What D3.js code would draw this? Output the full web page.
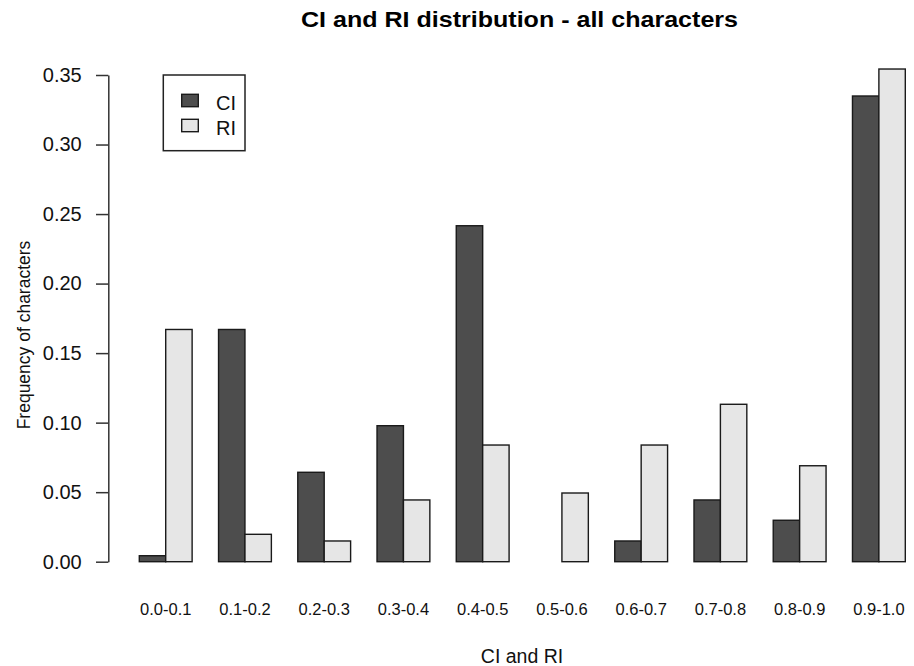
<!DOCTYPE html>
<html>
<head>
<meta charset="utf-8">
<script src="https://cdn.jsdelivr.net/npm/d3@7"></script>
<style>
  html, body { margin: 0; padding: 0; background: #fff; }
  svg { display: block; font-family: "Liberation Sans", Arial, sans-serif; }
</style>
</head>
<body>
<svg id="chart" width="914" height="666"></svg>
<script>
const categories = ["0.0-0.1","0.1-0.2","0.2-0.3","0.3-0.4","0.4-0.5","0.5-0.6","0.6-0.7","0.7-0.8","0.8-0.9","0.9-1.0"];
const seriesNames = ["CI", "RI"];
const ciValues = [0.0043, 0.167, 0.0643, 0.0978, 0.2416, 0.0, 0.0149, 0.0444, 0.0298, 0.3349];
const riValues = [0.167, 0.0197, 0.0149, 0.0444, 0.0839, 0.0494, 0.0839, 0.1132, 0.069, 0.3543];
const yTicks = [0, 0.05, 0.10, 0.15, 0.20, 0.25, 0.30, 0.35];
const seriesColors = ["#4d4d4d", "#e6e6e6"];

const data = categories.map((c, i) => ({ cat: c, CI: ciValues[i], RI: riValues[i] }));

const svg = d3.select("#chart");

const y = d3.scaleLinear().domain([0, 0.35]).range([561.7, 75]);
const x0 = d3.scaleBand().domain(categories).range([139.3, 905.3]).paddingInner(1/3).paddingOuter(0);
const x1 = d3.scaleBand().domain(seriesNames).range([0, x0.bandwidth()]);
const color = d3.scaleOrdinal().domain(seriesNames).range(seriesColors);

// bars
const groups = svg.append("g").selectAll("g").data(data).join("g")
  .attr("transform", d => `translate(${x0(d.cat)},0)`);
groups.selectAll("rect").data(d => seriesNames.map(s => ({ key: s, value: d[s] }))).join("rect")
  .attr("x", d => x1(d.key))
  .attr("y", d => y(d.value))
  .attr("width", x1.bandwidth())
  .attr("height", d => y(0) - y(d.value))
  .attr("fill", d => color(d.key))
  .attr("stroke", "#1a1a1a")
  .attr("stroke-width", 1.4);

// y axis
const yAxis = svg.append("g")
  .attr("transform", "translate(108.3,0)")
  .call(d3.axisLeft(y).tickValues(yTicks).tickFormat(d3.format(".2f")).tickSize(12.3).tickSizeOuter(0).tickPadding(14.3));
yAxis.select(".domain").attr("stroke", "#333").attr("stroke-width", 1.5);
yAxis.selectAll(".tick line").attr("stroke", "#333").attr("stroke-width", 1.5);
yAxis.selectAll(".tick text").attr("font-size", "20px").attr("fill", "#111")
  .attr("font-family", "'Liberation Sans', Arial, sans-serif");

// x axis labels
const xAxis = svg.append("g")
  .attr("transform", `translate(0,${y(0)})`)
  .call(d3.axisBottom(x0).tickSize(0).tickPadding(41.6));
xAxis.select(".domain").remove();
xAxis.selectAll(".tick text").attr("font-size", "16.5px").attr("fill", "#111")
  .attr("font-family", "'Liberation Sans', Arial, sans-serif");

// title
svg.append("text")
  .attr("x", 519.5).attr("y", 27)
  .attr("text-anchor", "middle")
  .attr("font-size", "22px").attr("font-weight", "bold").attr("fill", "#000")
  .attr("textLength", 437).attr("lengthAdjust", "spacingAndGlyphs")
  .text("CI and RI distribution - all characters");

// x title
svg.append("text")
  .attr("x", 522).attr("y", 663)
  .attr("text-anchor", "middle")
  .attr("font-size", "19.5px").attr("fill", "#111")
  .text("CI and RI");

// y title
svg.append("text")
  .attr("transform", "translate(30,335) rotate(-90)")
  .attr("text-anchor", "middle")
  .attr("font-size", "17.5px").attr("fill", "#111")
  .text("Frequency of characters");

// legend
const legend = svg.append("g");
legend.append("rect")
  .attr("x", 163.3).attr("y", 75).attr("width", 81.7).attr("height", 75.7)
  .attr("fill", "#fff").attr("stroke", "#222").attr("stroke-width", 1.5);
const items = legend.selectAll("g.item").data(seriesNames).join("g").attr("class", "item")
  .attr("transform", (d, i) => `translate(0,${i * 25})`);
items.append("rect")
  .attr("x", 181.7).attr("y", 94.3).attr("width", 16.6).attr("height", 12.4)
  .attr("fill", d => color(d)).attr("stroke", "#1a1a1a").attr("stroke-width", 1.4);
items.append("text")
  .attr("x", 216).attr("y", 110)
  .attr("font-size", "20px").attr("fill", "#111")
  .text(d => d);
</script>
</body>
</html>
